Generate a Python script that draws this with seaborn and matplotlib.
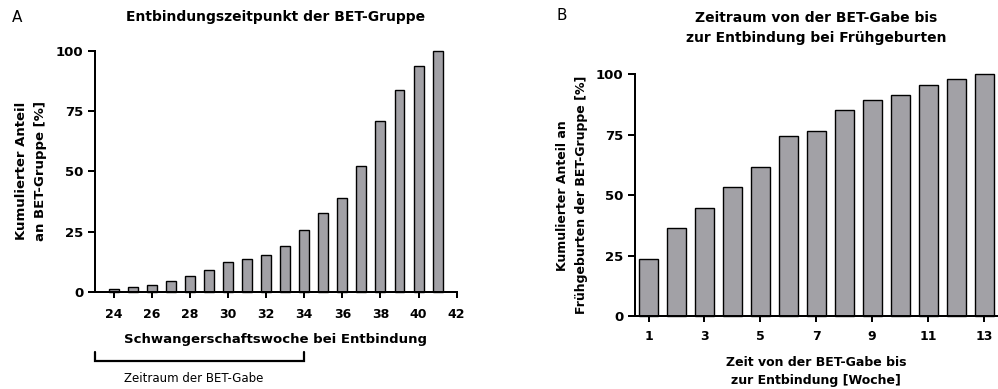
import numpy as np
import pandas as pd
import matplotlib
matplotlib.use("Agg")
import matplotlib.pyplot as plt
import matplotlib.transforms as mtransforms
import seaborn as sns

# ---- data ----
weeks_a = [24, 25, 26, 27, 28, 29, 30, 31, 32, 33, 34, 35, 36, 37, 38, 39, 40, 41]
cum_a = [1.2, 1.8, 2.9, 4.6, 6.4, 9.1, 12.5, 13.7, 15.2, 19.1, 25.5, 32.7, 38.8,
         52.4, 70.8, 83.8, 93.8, 100.0]
xticks_a = [24, 26, 28, 30, 32, 34, 36, 38, 40, 42]

weeks_b = [1, 2, 3, 4, 5, 6, 7, 8, 9, 10, 11, 12, 13]
cum_b = [23.4, 36.2, 44.7, 53.2, 61.7, 74.5, 76.6, 85.1, 89.4, 91.5, 95.7, 97.9, 100.0]
xticks_b = [1, 3, 5, 7, 9, 11, 13]

yticks = [0, 25, 50, 75, 100]
bet_period = [23, 34]

sns.set_style("ticks")
plt.rcParams["font.family"] = ["DejaVu Sans"]
plt.rcParams["text.color"] = "black"
plt.rcParams["axes.labelcolor"] = "black"
plt.rcParams["xtick.color"] = "black"
plt.rcParams["ytick.color"] = "black"

BAR = "#a2a1a6"
LW = 1.1

fig = plt.figure(figsize=(9.98, 3.89), dpi=100)
axA = fig.add_axes([0.0947, 0.250, 0.3629, 0.619])
axB = fig.add_axes([0.6358, 0.1877, 0.3642, 0.6213])

dfA = pd.DataFrame({"week": weeks_a, "cum": cum_a})
dfB = pd.DataFrame({"week": weeks_b, "cum": cum_b})

sns.barplot(data=dfA, x="week", y="cum", native_scale=True, width=0.52,
            color=BAR, saturation=1, edgecolor="black", linewidth=1.0, ax=axA)
sns.barplot(data=dfB, x="week", y="cum", native_scale=True, width=0.68,
            color=BAR, saturation=1, edgecolor="black", linewidth=1.0, ax=axB)

for ax, xt, xl, pad in [(axA, xticks_a, (23, 42), 8), (axB, xticks_b, (0.5, 13.5), 6)]:
    for p in ax.patches:
        p.set_clip_on(False)
    ax.set_xlim(*xl)
    ax.set_ylim(0, 100)
    ax.set_xticks(xt)
    ax.set_xticklabels([str(v) for v in xt], fontsize=9, fontweight="bold")
    ax.set_yticks(yticks)
    ax.set_yticklabels([str(v) for v in yticks], fontsize=9.5, fontweight="bold")
    for s in ["top", "right"]:
        ax.spines[s].set_visible(False)
    for s in ["left", "bottom"]:
        ax.spines[s].set_linewidth(LW * 1.3)
        ax.spines[s].set_color("black")
    ax.tick_params(axis="x", length=4, width=LW * 1.3, pad=pad, colors="black")
    ax.tick_params(axis="y", length=5, width=LW * 1.3, pad=3, colors="black")

axA.set_xlabel("Schwangerschaftswoche bei Entbindung", fontsize=9.5, fontweight="bold")
axA.xaxis.set_label_coords(0.5, -0.170)
axA.set_ylabel("Kumulierter Anteil\nan BET-Gruppe [%]", fontsize=9.5,
               fontweight="bold", linespacing=1.6)
axA.yaxis.set_label_coords(-0.130, 0.5)
axB.set_xlabel("Zeit von der BET-Gabe bis\nzur Entbindung [Woche]", fontsize=9,
               fontweight="bold", linespacing=1.55)
axB.xaxis.set_label_coords(0.5, -0.165)
axB.set_ylabel("Kumulierter Anteil an\nFrühgeburten der BET-Gruppe [%]", fontsize=9,
               fontweight="bold", linespacing=1.6)
axB.yaxis.set_label_coords(-0.128, 0.5)

fig.text(276 / 998, 1 - 17 / 389, "Entbindungszeitpunkt der BET-Gruppe",
         ha="center", va="center", fontsize=10, fontweight="bold")
fig.text(816 / 998, 1 - 28 / 389,
         "Zeitraum von der BET-Gabe bis\nzur Entbindung bei Frühgeburten",
         ha="center", va="center", fontsize=10, fontweight="bold", linespacing=1.6)
fig.text(17 / 998, 1 - 17 / 389, "A", ha="center", va="center", fontsize=11)
fig.text(562 / 998, 1 - 16 / 389, "B", ha="center", va="center", fontsize=11)

# bracket for the BET period
trA = mtransforms.blended_transform_factory(axA.transData, axA.transAxes)
axA.plot([bet_period[0], bet_period[0], bet_period[1], bet_period[1]],
         [-0.250, -0.288, -0.288, -0.250], color="black", lw=1.6,
         transform=trA, clip_on=False, solid_joinstyle="miter")
axA.text((bet_period[0] + bet_period[1]) / 2 - 0.3, -0.362, "Zeitraum der BET-Gabe",
         transform=trA, ha="center", va="center", fontsize=8.5)

fig.savefig("out.png", dpi=100)
